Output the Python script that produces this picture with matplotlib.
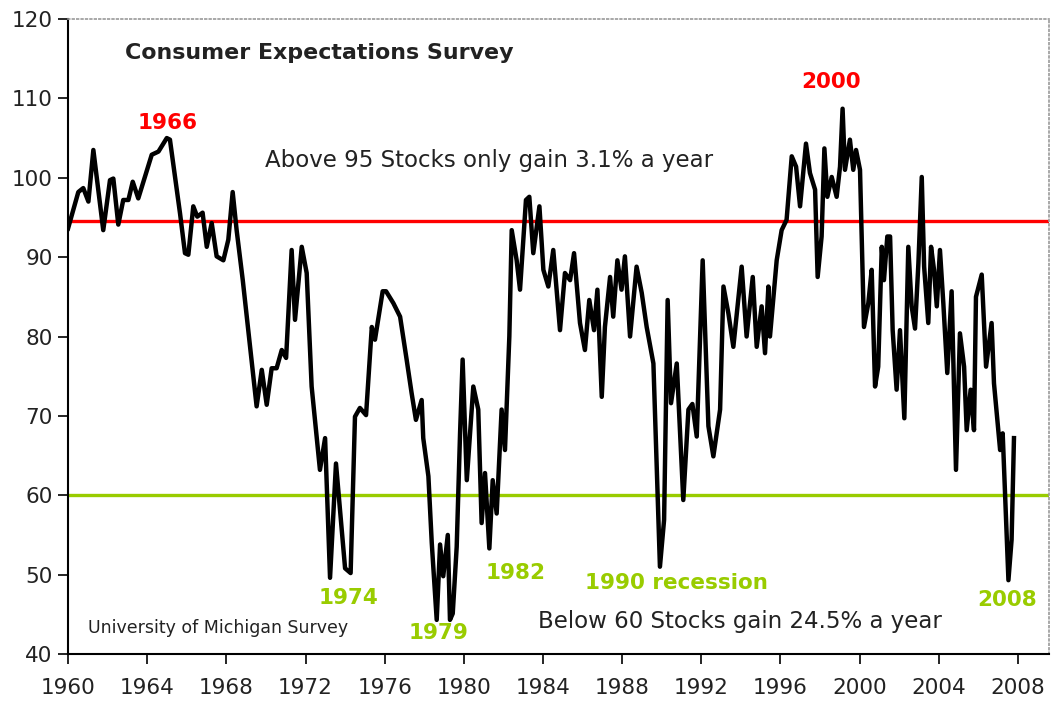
import matplotlib
matplotlib.use("Agg")
import matplotlib.pyplot as plt

plt.rcParams['font.family'] = ['DejaVu Sans']

# survey readings (decimal year, index value)
years = [
    1960.00, 1960.52, 1960.77, 1961.03, 1961.28, 1961.78, 1962.12, 1962.29, 1962.54, 1962.79,
    1963.05, 1963.27, 1963.55, 1964.23, 1964.57, 1964.99, 1965.15, 1965.66, 1965.91, 1966.08,
    1966.33, 1966.53, 1966.80, 1967.01, 1967.26, 1967.51, 1967.85, 1968.10, 1968.32, 1968.52,
    1968.83, 1969.53, 1969.79, 1970.04, 1970.29, 1970.54, 1970.80, 1971.02, 1971.30, 1971.47,
    1971.81, 1972.06, 1972.31, 1972.73, 1972.99, 1973.24, 1973.54, 1974.00, 1974.28, 1974.50,
    1974.75, 1975.06, 1975.35, 1975.51, 1975.90, 1976.07, 1976.44, 1976.78, 1977.11, 1977.36,
    1977.58, 1977.87, 1977.95, 1978.21, 1978.38, 1978.63, 1978.80, 1978.96, 1979.19, 1979.30,
    1979.44, 1979.64, 1979.81, 1979.94, 1980.15, 1980.48, 1980.73, 1980.90, 1981.07, 1981.29,
    1981.46, 1981.66, 1981.91, 1982.08, 1982.30, 1982.42, 1982.67, 1982.84, 1983.14, 1983.31,
    1983.51, 1983.82, 1984.02, 1984.27, 1984.52, 1984.86, 1985.11, 1985.37, 1985.57, 1985.87,
    1986.12, 1986.34, 1986.58, 1986.75, 1986.97, 1987.13, 1987.39, 1987.55, 1987.76, 1987.97,
    1988.14, 1988.40, 1988.73, 1988.99, 1989.24, 1989.58, 1989.91, 1990.12, 1990.30, 1990.47,
    1990.76, 1991.09, 1991.35, 1991.55, 1991.77, 1992.07, 1992.36, 1992.61, 1992.95, 1993.12,
    1993.37, 1993.62, 1994.04, 1994.29, 1994.60, 1994.80, 1995.05, 1995.22, 1995.39, 1995.47,
    1995.81, 1996.06, 1996.31, 1996.57, 1996.79, 1996.99, 1997.29, 1997.49, 1997.75, 1997.88,
    1998.08, 1998.22, 1998.37, 1998.59, 1998.84, 1999.01, 1999.14, 1999.26, 1999.51, 1999.68,
    1999.82, 2000.02, 2000.22, 2000.44, 2000.61, 2000.78, 2000.94, 2001.12, 2001.23, 2001.40,
    2001.54, 2001.67, 2001.87, 2002.04, 2002.26, 2002.46, 2002.63, 2002.80, 2002.97, 2003.14,
    2003.26, 2003.47, 2003.61, 2003.76, 2003.90, 2004.06, 2004.23, 2004.43, 2004.65, 2004.87,
    2005.07, 2005.28, 2005.41, 2005.61, 2005.78, 2005.88, 2006.17, 2006.39, 2006.67, 2006.79,
    2007.01, 2007.10, 2007.23, 2007.52, 2007.68, 2007.80,
]
values = [
    93.6, 98.2, 98.7, 97.0, 103.5, 93.4, 99.7, 99.9, 94.1, 97.2,
    97.2, 99.5, 97.4, 102.9, 103.3, 105.0, 104.8, 95.5, 90.5, 90.3,
    96.4, 95.1, 95.6, 91.3, 94.3, 90.1, 89.6, 92.2, 98.2, 93.4,
    87.1, 71.2, 75.8, 71.4, 76.0, 76.0, 78.3, 77.3, 90.9, 82.1,
    91.3, 88.0, 73.7, 63.2, 67.2, 49.6, 64.0, 50.8, 50.2, 69.9,
    71.0, 70.1, 81.2, 79.6, 85.7, 85.7, 84.2, 82.5, 77.1, 72.9,
    69.5, 72.0, 67.2, 62.4, 54.0, 44.3, 53.8, 49.8, 55.0, 44.3,
    45.1, 53.5, 67.8, 77.1, 61.9, 73.7, 70.8, 56.5, 62.8, 53.3,
    61.9, 57.7, 70.8, 65.7, 80.0, 93.4, 89.6, 85.9, 97.2, 97.6,
    90.5, 96.4, 88.4, 86.3, 90.9, 80.8, 88.0, 87.1, 90.5, 81.7,
    78.3, 84.6, 80.8, 85.9, 72.4, 81.2, 87.5, 82.5, 89.6, 85.9,
    90.1, 80.0, 88.8, 85.5, 81.2, 76.6, 51.0, 56.9, 84.6, 71.6,
    76.6, 59.4, 70.8, 71.5, 67.4, 89.6, 68.7, 64.9, 70.8, 86.3,
    82.9, 78.7, 88.8, 80.0, 87.5, 78.7, 83.8, 77.9, 86.3, 80.0,
    89.6, 93.4, 94.7, 102.7, 101.4, 96.4, 104.3, 100.6, 98.5, 87.5,
    92.6, 103.7, 97.6, 100.1, 97.6, 101.4, 108.7, 101.0, 104.8, 101.0,
    103.5, 101.0, 81.2, 84.2, 88.4, 73.7, 76.2, 91.3, 87.1, 92.6,
    92.6, 80.8, 73.3, 80.8, 69.7, 91.3, 83.8, 81.0, 89.2, 100.1,
    88.8, 81.7, 91.3, 88.4, 83.8, 90.9, 84.2, 75.4, 85.7, 63.2,
    80.4, 76.2, 68.2, 73.3, 68.2, 85.0, 87.8, 76.2, 81.7, 74.1,
    68.2, 65.7, 67.8, 49.3, 54.4, 67.2,
]

upper_level = 94.5
lower_level = 60
xticks = list(range(1960, 2009, 4))
yticks = list(range(40, 121, 10))

red = '#ff0000'
green = '#99cc00'

fig = plt.figure(figsize=(10.53, 7.04), dpi=100)
ax = fig.add_axes([0.0646, 0.071, 0.9316, 0.902])

ax.axhline(upper_level, color=red, lw=2.4, zorder=2)
ax.axhline(lower_level, color=green, lw=2.4, zorder=2)
ax.plot(years, values, color='black', lw=3.2, solid_joinstyle='round', zorder=3)

ax.set_xlim(1960, 2009.57)
ax.set_ylim(40, 120)
ax.set_xticks(xticks)
ax.set_yticks(yticks)
ax.tick_params(axis='both', direction='out', length=7, width=1.2, labelsize=15.5, colors='black')
ax.tick_params(axis='x', pad=10)
ax.tick_params(axis='y', pad=4)
for lab in ax.get_xticklabels() + ax.get_yticklabels():
    lab.set_color('#222222')
for s in ['left', 'bottom']:
    ax.spines[s].set_linewidth(1.5)
for s in ['top', 'right']:
    ax.spines[s].set_color('#999999')
    ax.spines[s].set_linestyle(':')
    ax.spines[s].set_linewidth(1.2)

ax.text(1962.9, 115.7, 'Consumer Expectations Survey', fontsize=15.9, fontweight='bold',
        color='#222222', ha='left', va='center')
ax.text(1969.95, 102.2, 'Above 95 Stocks only gain 3.1% a year', fontsize=16.5,
        color='#222222', ha='left', va='center')
ax.text(1983.75, 44.1, 'Below 60 Stocks gain 24.5% a year', fontsize=16.5,
        color='#222222', ha='left', va='center')
ax.text(1961.0, 43.3, 'University of Michigan Survey', fontsize=12.5,
        color='#222222', ha='left', va='center')

lab_size = 15.5
ax.text(1965.05, 106.9, '1966', fontsize=lab_size, fontweight='bold', color=red, ha='center', va='center')
ax.text(1998.55, 112.1, '2000', fontsize=lab_size, fontweight='bold', color=red, ha='center', va='center')
ax.text(1974.15, 47.1, '1974', fontsize=lab_size, fontweight='bold', color=green, ha='center', va='center')
ax.text(1978.7, 42.7, '1979', fontsize=lab_size, fontweight='bold', color=green, ha='center', va='center')
ax.text(1982.6, 50.2, '1982', fontsize=lab_size, fontweight='bold', color=green, ha='center', va='center')
ax.text(1986.12, 49.0, '1990 recession', fontsize=lab_size, fontweight='bold', color=green, ha='left', va='center')
ax.text(2007.45, 46.8, '2008', fontsize=lab_size, fontweight='bold', color=green, ha='center', va='center')

fig.savefig('out.png', dpi=100)
